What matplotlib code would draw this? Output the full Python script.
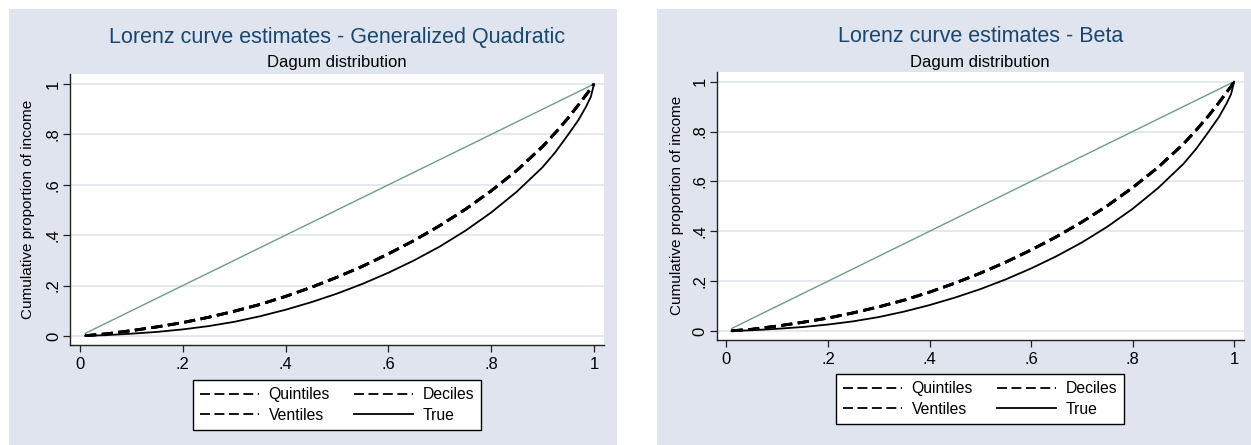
import matplotlib
matplotlib.use("Agg")
import matplotlib.pyplot as plt
from matplotlib.patches import Rectangle
from matplotlib.lines import Line2D

# ---------------- data ----------------
p = [0.01, 0.05, 0.10, 0.15, 0.20, 0.25, 0.30, 0.35, 0.40, 0.45, 0.50, 0.55,
     0.60, 0.65, 0.70, 0.75, 0.80, 0.85, 0.90, 0.925, 0.95, 0.97, 0.985, 0.994, 1.0]

true_L = [0.0005, 0.003, 0.009, 0.016, 0.026, 0.039, 0.056, 0.078, 0.104, 0.134,
          0.168, 0.207, 0.251, 0.300, 0.355, 0.418, 0.490, 0.573, 0.670, 0.730,
          0.800, 0.858, 0.912, 0.950, 1.0]

gq_quintiles = [0.001, 0.008, 0.021, 0.036, 0.053, 0.074, 0.098, 0.125, 0.157, 0.193,
                0.233, 0.277, 0.326, 0.379, 0.438, 0.503, 0.576, 0.657, 0.752, 0.807,
                0.866, 0.918, 0.958, 0.982, 1.0]
gq_deciles = gq_quintiles
gq_ventiles = gq_quintiles

beta_quintiles = [0.001, 0.007, 0.020, 0.035, 0.052, 0.073, 0.097, 0.124, 0.156, 0.192,
                  0.232, 0.276, 0.325, 0.378, 0.437, 0.502, 0.575, 0.656, 0.750, 0.805,
                  0.864, 0.916, 0.957, 0.981, 1.0]
beta_deciles = beta_quintiles
beta_ventiles = beta_quintiles

eq_x = [0.01, 1.0]
eq_y = [0.01, 1.0]

xticks = [0, 0.2, 0.4, 0.6, 0.8, 1.0]
tick_labels = ["0", ".2", ".4", ".6", ".8", "1"]

titles = ["Lorenz curve estimates - Generalized Quadratic", "Lorenz curve estimates - Beta"]
subtitle = "Dagum distribution"
ylabel = "Cumulative proportion of income"
legend_labels = ["Quintiles", "Deciles", "Ventiles", "True"]

# ---------------- style ----------------
plt.rcParams['font.family'] = ['Liberation Sans', 'DejaVu Sans']
BG = '#dfe4ee'
GRID = '#dfe4ee'
GREEN = '#6f9c88'
NAVY = '#1a476f'

W, H = 1251, 445
fig = plt.figure(figsize=(W / 100, H / 100), dpi=100)
fig.patch.set_facecolor('white')

# panel backgrounds (pixel boxes)
for (x0, x1) in [(9, 617), (657, 1251)]:
    fig.patches.append(Rectangle((x0 / W, 0), (x1 - x0) / W, (H - 9) / H,
                                 transform=fig.transFigure, facecolor=BG,
                                 edgecolor='none', zorder=-10))

# axes boxes in pixels: left, right, top, bottom
boxes = [(70, 604, 74, 345), (716.6, 1244, 71.7, 340)]
ylabel_px = [35, 683.6]
legend_centers = [(337, 405), (980, 399)]

panels = [
    (gq_quintiles, gq_deciles, gq_ventiles),
    (beta_quintiles, beta_deciles, beta_ventiles),
]

for i, (l, r, t, b) in enumerate(boxes):
    ax = fig.add_axes([l / W, (H - b) / H, (r - l) / W, (b - t) / H])
    ax.set_zorder(1)
    ax.set_facecolor('white')
    ax.set_xlim(-0.0195, 1.0195)
    ax.set_ylim(-0.036, 1.04)

    for yv in xticks:
        ax.axhline(yv, color=GRID, lw=1.2, zorder=1)

    q, d, v = panels[i]
    ax.plot(eq_x, eq_y, color=GREEN, lw=1.0, zorder=2)
    ax.plot(p, q, color='black', lw=2.0, dashes=(4.0, 2.0), zorder=3)
    ax.plot(p, d, color='black', lw=2.0, dashes=(4.0, 2.0), zorder=3)
    ax.plot(p, v, color='black', lw=2.0, dashes=(4.0, 2.0), zorder=3)
    ax.plot(p, true_L, color='black', lw=1.3, zorder=4)

    for s in ['top', 'right']:
        ax.spines[s].set_visible(False)
    for s in ['left', 'bottom']:
        ax.spines[s].set_color('#222222')
        ax.spines[s].set_linewidth(1.0)

    ax.set_xticks(xticks)
    ax.set_xticklabels(tick_labels)
    ax.set_yticks(xticks)
    ax.set_yticklabels(tick_labels, rotation=90, va='center')
    ax.tick_params(axis='both', direction='out', length=5, width=0.9,
                   color='#222222', labelsize=12)
    ax.tick_params(axis='x', pad=3.5)
    ax.tick_params(axis='y', pad=1.5)

    ax.set_ylabel(ylabel, fontsize=11)
    ax.yaxis.set_label_coords((ylabel_px[i] - l) / (r - l), 0.5)

    cx = (l + r) / 2 / W
    fig.text(cx, 1 - 37 / H, titles[i], ha='center', va='center',
             fontsize=15.5, color=NAVY)
    fig.text(cx, 1 - 62 / H, subtitle, ha='center', va='center',
             fontsize=12, color='black')

    lh = [Line2D([], [], color='black', lw=1.3, dashes=(5.5, 2.5)),
          Line2D([], [], color='black', lw=1.3, dashes=(5.5, 2.5)),
          Line2D([], [], color='black', lw=1.3, dashes=(5.5, 2.5)),
          Line2D([], [], color='black', lw=1.3)]
    # column-major order: Quintiles, Ventiles | Deciles, True
    order = [0, 2, 1, 3]
    lcx, lcy = legend_centers[i]
    leg = ax.legend([lh[k] for k in order], [legend_labels[k] for k in order],
                    loc='center', bbox_to_anchor=(lcx / W, 1 - lcy / H),
                    bbox_transform=fig.transFigure, ncol=2, fontsize=11.3,
                    frameon=True, fancybox=False, edgecolor='black',
                    framealpha=1.0, handlelength=3.8, handletextpad=0.6,
                    columnspacing=1.5, labelspacing=0.35, borderpad=0.45)
    leg.get_frame().set_linewidth(1.0)

fig.savefig('out.png', dpi=100, facecolor='white')
